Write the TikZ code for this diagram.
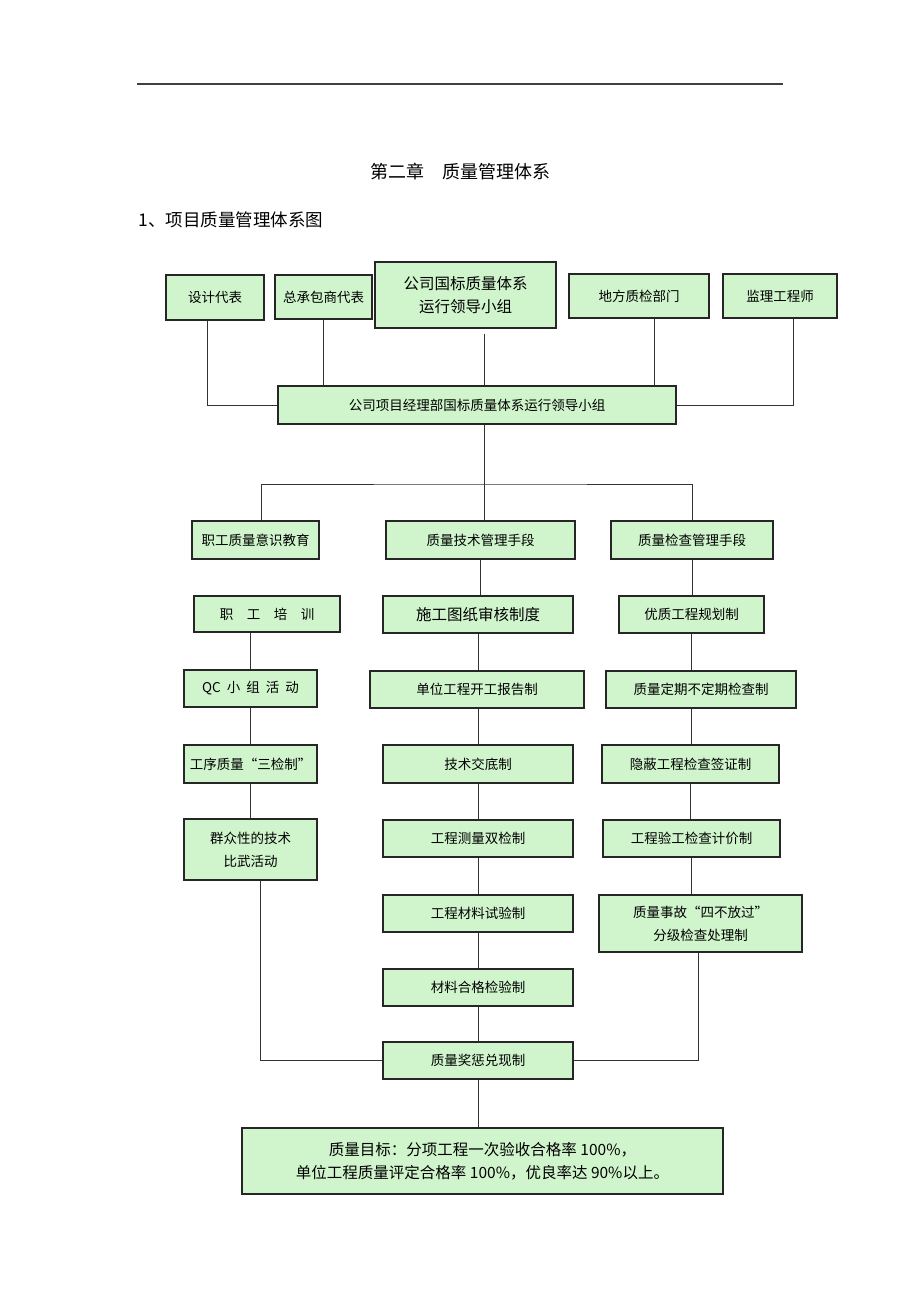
\documentclass[tikz,border=0pt]{standalone}
\usepackage{fontspec}
\setmainfont{Noto Sans CJK SC}
\usepackage{xcolor}
\usetikzlibrary{
  positioning,
  calc
}
\definecolor{boxgreen}{RGB}{208,245,204}

\tikzset{
  box/.style={draw=black!85, line width=1.1pt, fill=boxgreen, inner sep=0pt,
    align=center, font=\fontsize{13.5}{23}\selectfont},
  bigbox/.style={box, font=\fontsize{15.5}{23}\selectfont},
  link/.style={line width=1pt, draw=black!80},
}

\begin{document}
\begin{tikzpicture}[x=1pt, y=-1pt]
        \useasboundingbox (0,0) rectangle (920,1302);

        % Cabeçalho da página
        \draw[line width=1.2pt, black!75] (137,84) -- (783,84);
        \node[font=\fontsize{18}{20}\selectfont] (titulo) at (460,172) {第二章\quad 质量管理体系};
        \node[anchor=west, font=\fontsize{17.5}{20}\selectfont] (secao) at (135,220) {1、项目质量管理体系图};

        % Linha de cima
        \node[box, minimum width=98pt, minimum height=45pt] (sheji) at (215,297.5) {设计代表};
        \node[box, minimum width=97pt, minimum height=44pt] (zongbao) at (323.5,297) {总承包商代表};
        \node[bigbox, minimum width=181pt, minimum height=66pt] (guobiao) at (465.5,295) {公司国标质量体系\\运行领导小组};
        \node[box, minimum width=140pt, minimum height=44pt] (difang) at (639,296) {地方质检部门};
        \node[box, minimum width=114pt, minimum height=44pt] (jianli) at (780,296) {监理工程师};
        \node[box, minimum width=398pt, minimum height=38pt] (xiangmu) at (477,405) {公司项目经理部国标质量体系运行领导小组};

        % Três ramos
        \node[box, minimum width=127pt, minimum height=38pt] (jiaoyu) at (255.5,540) {职工质量意识教育};
        \node[box, minimum width=189pt, minimum height=38pt] (jishu) at (480.5,540) {质量技术管理手段};
        \node[box, minimum width=162pt, minimum height=38pt] (jiancha) at (692,540) {质量检查管理手段};

        % Coluna da esquerda
        \node[box, minimum width=146pt, minimum height=36pt] (peixun) at (267,614) {职\quad 工\quad 培\quad 训};
        \node[box, minimum width=133pt, minimum height=37pt] (qc) at (250.5,688.5) {QC\ \ 小\ \ 组\ \ 活\ \ 动};
        \node[box, minimum width=133pt, minimum height=38pt] (gongxu) at (250.5,764) {工序质量“三检制”};
        \node[box, minimum width=133pt, minimum height=61pt] (bisai) at (250.5,849.5) {群众性的技术\\比武活动};

        % Coluna do meio
        \node[bigbox, minimum width=190pt, minimum height=37pt] (tuzhi) at (478,614.5) {施工图纸审核制度};
        \node[box, minimum width=214pt, minimum height=37pt] (kaigong) at (477,689.5) {单位工程开工报告制};
        \node[box, minimum width=190pt, minimum height=38pt] (jiaodi) at (478,764) {技术交底制};
        \node[box, minimum width=190pt, minimum height=37pt] (celiang) at (478,838.5) {工程测量双检制};
        \node[box, minimum width=190pt, minimum height=37pt] (shiyan) at (478,913.5) {工程材料试验制};
        \node[box, minimum width=190pt, minimum height=37pt] (hege) at (478,987.5) {材料合格检验制};
        \node[box, minimum width=190pt, minimum height=37pt] (jiangcheng) at (478,1060.5) {质量奖惩兑现制};
        \node[bigbox, minimum width=481pt, minimum height=66pt] (mubiao) at (482.5,1161)
          {质量目标：分项工程一次验收合格率 100\%，\\单位工程质量评定合格率 100\%，优良率达 90\%以上。};

        % Coluna da direita
        \node[box, minimum width=145pt, minimum height=37pt] (youzhi) at (691.5,614.5) {优质工程规划制};
        \node[box, minimum width=190pt, minimum height=37pt] (dingqi) at (701,689.5) {质量定期不定期检查制};
        \node[box, minimum width=177pt, minimum height=38pt] (yinbi) at (690.5,764) {隐蔽工程检查签证制};
        \node[box, minimum width=177pt, minimum height=37pt] (yangong) at (691.5,838.5) {工程验工检查计价制};
        \node[box, minimum width=203pt, minimum height=57pt] (shigu) at (700.5,923.5) {质量事故“四不放过”\\分级检查处理制};

        % Ligações de cima
        \draw[link] ([xshift=-8pt]sheji.south) |- (xiangmu.west);
        \draw[link] (zongbao.south) -- (zongbao.south |- xiangmu.north);
        \draw[link] ([xshift=7pt, yshift=-5pt]xiangmu.north |- guobiao.south) -- ([xshift=7pt]xiangmu.north);
        \draw[link] ([xshift=15pt]difang.south) -- ([xshift=15pt]difang.south |- xiangmu.north);
        \draw[link] ([xshift=13pt]jianli.south) |- (xiangmu.east);

        % Ramificação
        \coordinate (ramo) at (484,484);
        \draw[link] ([xshift=7pt]xiangmu.south) -- ([xshift=7pt]xiangmu.south |- jishu.north);
        \draw[link] ([xshift=6pt]jiaoyu.north) |- (ramo) -| (jiancha.north);

        % Esquerda
        \draw[link] (qc.north |- peixun.south) -- (qc.north);
        \draw[link] (qc.south) -- (gongxu.north);
        \draw[link] (gongxu.south) -- (bisai.north);
        \draw[link] ([xshift=10pt]bisai.south) |- (jiangcheng.west);

        % Meio
        \draw[link] (jishu.north |- jishu.south) -- (jishu.south |- tuzhi.north);
        \draw[link] (tuzhi.south) -- (tuzhi.south |- kaigong.north);
        \draw[link] (tuzhi.south |- kaigong.south) -- (jiaodi.north);
        \draw[link] (jiaodi.south) -- (celiang.north);
        \draw[link] (celiang.south) -- (shiyan.north);
        \draw[link] (shiyan.south) -- (hege.north);
        \draw[link] (hege.south) -- (jiangcheng.north);
        \draw[link] (jiangcheng.south) -- (jiangcheng.south |- mubiao.north);

        % Direita
        \draw[link] (jiancha.south) -- (jiancha.south |- youzhi.north);
        \draw[link] (youzhi.south) -- (youzhi.south |- dingqi.north);
        \draw[link] (youzhi.south |- dingqi.south) -- (youzhi.south |- yinbi.north);
        \draw[link] (yinbi.south) -- (yinbi.south |- yangong.north);
        \draw[link] (yangong.south) -- (yangong.south |- shigu.north);
        \draw[link] ([xshift=-2pt]shigu.south) |- (jiangcheng.east);
    \end{tikzpicture}
\end{document}
